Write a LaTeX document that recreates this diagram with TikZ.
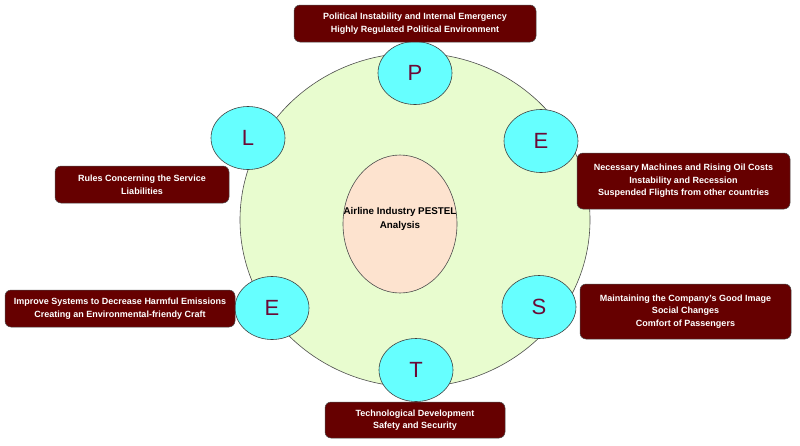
\documentclass[tikz,border=0pt]{standalone}
\usepackage{fontspec}
\setmainfont{Liberation Sans}
\usetikzlibrary{shapes.geometric}
\definecolor{boxred}{HTML}{660000}
\definecolor{lettercol}{HTML}{6B0A36}
\definecolor{bigfill}{HTML}{E8FCCF}
\definecolor{corefill}{HTML}{FDE3CF}
\definecolor{letterfill}{HTML}{66FFFF}

\begin{document}
\begin{tikzpicture}[x=1pt, y=-1pt,
    letter/.style={ellipse, draw=black!75, fill=letterfill, line width=0.6pt,
      minimum width=74, minimum height=63, inner sep=0pt,
      text=lettercol, font=\fontsize{22}{22}\selectfont},
    factor/.style={rectangle, rounded corners=6pt, draw=black!70, fill=boxred,
      line width=0.5pt, text=white, align=center, inner sep=0pt,
      font=\bfseries\fontsize{9}{12.6}\selectfont}]
      \useasboundingbox (0,0) rectangle (800,445);

      % wheel and core
      \node[ellipse, draw=black!70, fill=bigfill, line width=0.6pt, minimum width=350, minimum height=334] (wheel) at (415,220) {};
      \node[ellipse, draw=black!70, fill=corefill, line width=0.6pt, minimum width=114, minimum height=138, inner sep=0pt] (core) at (400,224) {};
      \node[align=center, font=\bfseries\fontsize{9.8}{14}\selectfont] (title) at (400,219) {Airline Industry PESTEL\\Analysis};

      % the six letters
      \node[letter] (pol) at (415,73) {P};
      \node[letter] (eco) at (541,141) {E};
      \node[letter] (soc) at (539,307) {S};
      \node[letter] (tec) at (416,370) {T};
      \node[letter] (env) at (272,308) {E};
      \node[letter] (leg) at (248,138) {L};

      % factor boxes
      \node[factor, minimum width=242, minimum height=37] (polbox) at (415,23.5)
        {Political Instability and Internal Emergency\\Highly Regulated Political Environment};
      \node[factor, minimum width=213, minimum height=56] (ecobox) at (683.5,181)
        {Necessary Machines and Rising Oil Costs\\Instability and Recession\\Suspended Flights from other countries};
      \node[factor, minimum width=211, minimum height=55] (socbox) at (685.5,311.5)
        {Maintaining the Company's Good Image\\Social Changes\\Comfort of Passengers};
      \node[factor, minimum width=180, minimum height=36] (tecbox) at (415,420)
        {Technological Development\\Safety and Security};
      \node[factor, minimum width=230, minimum height=37] (envbox) at (120,308.5)
        {Improve Systems to Decrease Harmful Emissions\\Creating an Environmental-friendy Craft};
      \node[factor, minimum width=174, minimum height=37] (legbox) at (142,184.5)
        {Rules Concerning the Service\\Liabilities};
\end{tikzpicture}
\end{document}
